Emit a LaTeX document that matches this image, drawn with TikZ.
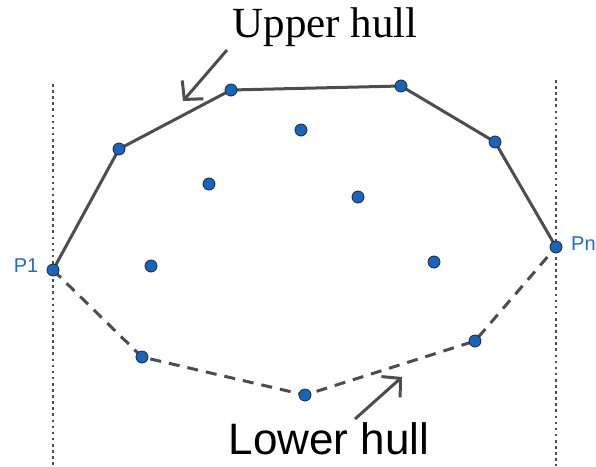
\documentclass[tikz,border=0pt]{standalone}
\usepackage{fontspec}
\setmainfont{Liberation Serif}
\newfontfamily\arialf{Liberation Sans}
\usetikzlibrary{arrows.meta}
\definecolor{ptblue}{HTML}{1565C0}
\definecolor{lblblue}{HTML}{1E6EC8}
\definecolor{hullgray}{HTML}{4D4D4D}
\tikzset{
  pt/.style={circle, fill=ptblue, draw=black!85, line width=0.8pt, minimum size=12pt, inner sep=0pt},
  hull/.style={draw=hullgray, line width=3pt},
  lhull/.style={hull, dash pattern=on 11pt off 8pt},
  guide/.style={draw=hullgray, line width=2.6pt, dash pattern=on 2.6pt off 3.5pt},
  callout/.style={draw=hullgray, line width=3pt, -{Straight Barb[length=13pt,width=28pt,line width=3pt]}},
  lbl/.style={text=lblblue, font=\arialf\fontsize{20}{22}\selectfont},
}
\begin{document}
\begin{tikzpicture}[x=1pt,y=-1pt]
\useasboundingbox (0,0) rectangle (596,466);
% guides
\coordinate (g1t) at (53,84);
\coordinate (g1b) at (53,466);
\coordinate (g2t) at (556,80);
\coordinate (g2b) at (556,466);
\draw[guide] (g1t) -- (g1b);
\draw[guide] (g2t) -- (g2b);
% hull edges drawn first, then points on top
\coordinate (cp1) at (53,270);
\coordinate (ca) at (119,149);
\coordinate (cb) at (231,90);
\coordinate (cc) at (401,86);
\coordinate (cd) at (495,142);
\coordinate (cpn) at (556,247);
\coordinate (cl1) at (142,357);
\coordinate (cl2) at (305,395);
\coordinate (cl3) at (475,341);
\draw[hull] (cp1) -- (ca) -- (cb) -- (cc) -- (cd) -- (cpn);
\draw[lhull] (cp1) -- (cl1) -- (cl2) -- (cl3) -- (cpn);
% points
\node[pt] (p1) at (cp1) {};
\node[pt] (a) at (ca) {};
\node[pt] (b) at (cb) {};
\node[pt] (c) at (cc) {};
\node[pt] (d) at (cd) {};
\node[pt] (pn) at (cpn) {};
\node[pt] (l1) at (cl1) {};
\node[pt] (l2) at (cl2) {};
\node[pt] (l3) at (cl3) {};
\node[pt] (i1) at (301,130) {};
\node[pt] (i2) at (209,184) {};
\node[pt] (i3) at (358,197) {};
\node[pt] (i4) at (151,266) {};
\node[pt] (i5) at (434,262) {};
% labels
\node[lbl, anchor=east, inner sep=0pt] (tp1) at (38.5,266) {P1};
\node[lbl, anchor=west, inner sep=0pt] (tpn) at (571,243.5) {Pn};
\node[font=\fontsize{43}{45}\selectfont] (up) at (325,27) {Upper hull};
\node[font=\arialf\fontsize{44}{46}\selectfont] (lo) at (329,439) {Lower hull};
% callout arrows
\coordinate (ua0) at (227,50);
\coordinate (ua1) at (183,101);
\coordinate (la0) at (355,419);
\coordinate (la1) at (402,377);
\draw[callout] (ua0) -- (ua1);
\draw[callout] (la0) -- (la1);
\end{tikzpicture}
\end{document}
